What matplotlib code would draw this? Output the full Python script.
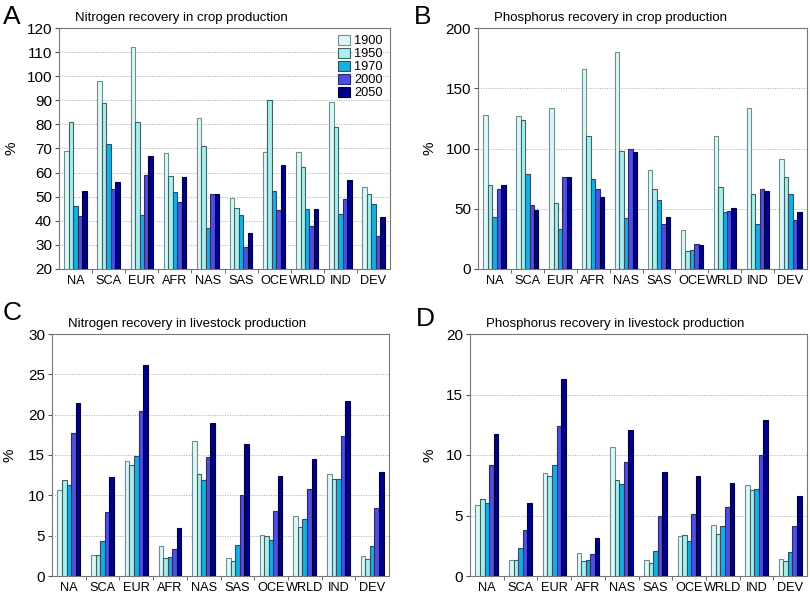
import matplotlib
matplotlib.use("Agg")
import matplotlib.pyplot as plt
import numpy as np
from matplotlib.patches import Patch

plt.rcParams['font.family'] = ['Liberation Sans', 'DejaVu Sans']

regions = ["NA", "SCA", "EUR", "AFR", "NAS", "SAS", "OCE", "WRLD", "IND", "DEV"]
years = ["1900", "1950", "1970", "2000", "2050"]

# Panel A: Nitrogen recovery in crop production (rows = regions, cols = years)
n_crop = [
    [69, 81, 46, 42, 52.5],
    [98, 89, 72, 53, 56],
    [112, 81, 42.5, 59, 67],
    [68, 58.5, 52, 48, 58],
    [82.5, 71, 37, 51, 51],
    [49.5, 45.5, 42.5, 29, 35],
    [68.5, 90, 52.5, 44.5, 63],
    [68.5, 62.5, 45, 38, 45],
    [89.5, 79, 43, 49, 57],
    [54, 51, 47, 33.5, 41.5],
]
# Panel B: Phosphorus recovery in crop production
p_crop = [
    [128, 70, 43, 66, 70],
    [127, 124, 79, 53, 49],
    [134, 55, 33, 76, 76],
    [166, 110, 75, 66, 60],
    [180, 98, 42, 100, 97],
    [82, 66, 57, 37, 43],
    [32, 15, 16, 21, 20],
    [110, 68, 47, 48, 51],
    [134, 62, 37, 66, 65],
    [91, 76, 62, 41, 47],
]
# Panel C: Nitrogen recovery in livestock production
n_live = [
    [10.7, 11.9, 11.3, 17.7, 21.5],
    [2.6, 2.6, 4.4, 7.9, 12.3],
    [14.3, 13.8, 14.9, 20.5, 26.1],
    [3.7, 2.2, 2.4, 3.4, 6.0],
    [16.7, 12.6, 11.9, 14.7, 19.0],
    [2.2, 1.8, 3.9, 10.1, 16.4],
    [5.1, 5.0, 4.5, 8.0, 12.4],
    [7.4, 6.1, 7.1, 10.8, 14.5],
    [12.7, 12.0, 12.0, 17.3, 21.7],
    [2.5, 2.1, 3.7, 8.4, 12.9],
]
# Panel D: Phosphorus recovery in livestock production
p_live = [
    [5.9, 6.4, 6.0, 9.2, 11.7],
    [1.3, 1.3, 2.3, 3.8, 6.0],
    [8.5, 8.3, 9.2, 12.4, 16.3],
    [1.9, 1.2, 1.3, 1.8, 3.1],
    [10.7, 7.9, 7.6, 9.4, 12.1],
    [1.3, 1.1, 2.1, 5.0, 8.6],
    [3.3, 3.4, 2.9, 5.1, 8.3],
    [4.2, 3.5, 4.1, 5.7, 7.7],
    [7.5, 7.1, 7.2, 10.0, 12.9],
    [1.4, 1.2, 2.0, 4.1, 6.6],
]

colors = ["#dcf7f7", "#a8eeee", "#18aee0", "#5050e0", "#00008a"]
edgecols = ["#6f8f8f", "#3c6464", "#2a4f6a", "#2a2a70", "#000040"]

W, H = 810, 592
fig = plt.figure(figsize=(W / 100, H / 100), dpi=100)

def px_axes(l, t, r, b):
    return fig.add_axes([l / W, 1 - b / H, (r - l) / W, (b - t) / H])

# letter position, ylabel x position (pixels)
panels = [
    ("A", "Nitrogen recovery in crop production", n_crop, (59, 28, 390, 269), (20, 120), np.arange(20, 121, 10), True, (3, 17), 11),
    ("B", "Phosphorus recovery in crop production", p_crop, (478, 28, 807, 269), (0, 200), np.arange(0, 201, 50), False, (414, 17), 429),
    ("C", "Nitrogen recovery in livestock production", n_live, (52, 334, 389, 576), (0, 30), np.arange(0, 31, 5), False, (3, 313), 10),
    ("D", "Phosphorus recovery in livestock production", p_live, (470, 334, 807, 576), (0, 20), np.arange(0, 21, 5), False, (416, 319), 429),
]

x = np.arange(len(regions))
bw = 0.135
for letter, title, data, box, ylim, yt, legend, lpos, ylx in panels:
    ax = px_axes(*box)
    arr = np.array(data)
    for j in range(len(years)):
        ax.bar(x + (j - 2) * bw, arr[:, j], bw, bottom=0, color=colors[j],
               edgecolor=edgecols[j], linewidth=0.8, zorder=3)
    ax.set_ylim(*ylim)
    ax.set_xlim(-0.5, len(regions) - 0.5)
    ax.set_yticks(yt)
    ax.tick_params(axis='y', labelsize=11, length=3, color='#555555', pad=2)
    ax.set_xticks(x)
    ax.set_xticklabels(regions, fontsize=9.2)
    ax.tick_params(axis='x', which='major', length=0, pad=4)
    ax.set_xticks(np.arange(0.5, len(regions) - 0.5, 1), minor=True)
    ax.tick_params(axis='x', which='minor', length=3, color='#555555')
    ax.yaxis.grid(True, linestyle=(0, (1, 1.5)), color='#aaaaaa', linewidth=0.7, zorder=0)
    for s in ax.spines.values():
        s.set_color('#777777')
        s.set_linewidth(0.8)
    l, t, r, b = box
    fig.text(ylx / W, 1 - ((t + b) / 2) / H, '%', fontsize=11, rotation=90,
             ha='center', va='center')
    fig.text((l + 16) / W, 1 - (t - 10) / H, title, fontsize=9.5, ha='left', va='center')
    fig.text(lpos[0] / W, 1 - lpos[1] / H, letter, fontsize=19, ha='left', va='center')
    if legend:
        handles = [Patch(facecolor=colors[j], edgecolor=edgecols[j], linewidth=0.8) for j in range(5)]
        ax.legend(handles, years, loc='upper right', frameon=False, fontsize=9.2,
                  handlelength=0.95, handleheight=0.8, handletextpad=0.35,
                  labelspacing=0.05, borderaxespad=0.35, borderpad=0.2)

fig.savefig("out.png", dpi=100)
